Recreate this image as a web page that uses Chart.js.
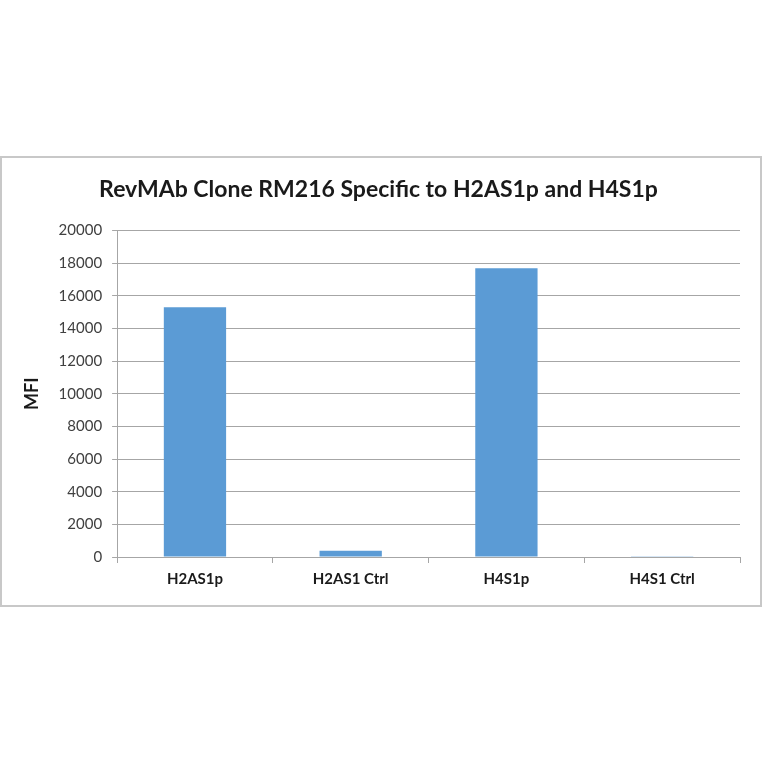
<!DOCTYPE html>
<html>
<head>
<meta charset="utf-8">
<script src="https://cdn.jsdelivr.net/npm/chart.js@4"></script>
<style>
html,body{margin:0;padding:0;background:#fff;}
#box{position:absolute;left:0px;top:156px;width:758px;height:447px;border:2px solid #c8c8c8;background:#fff;}
canvas{display:block;}
</style>
</head>
<body>
<div id="box"><canvas id="c" width="758" height="447"></canvas></div>
<script>
const categories = ["H2AS1p", "H2AS1 Ctrl", "H4S1p", "H4S1 Ctrl"];
const mfiValues = [15300, 380, 17700, 10];
const yTicks = [0, 2000, 4000, 6000, 8000, 10000, 12000, 14000, 16000, 18000, 20000];
const titleText = "RevMAb Clone RM216 Specific to H2AS1p and H4S1p";
const yTitle = "MFI";

new Chart(document.getElementById('c'), {
  type: 'bar',
  data: {
    labels: categories,
    datasets: [{
      data: mfiValues,
      backgroundColor: '#5b9bd5',
      categoryPercentage: 1.0,
      barPercentage: 0.4
    }]
  },
  options: {
    responsive: false,
    animation: false,
    layout: { padding: { left: 15, right: 20, top: 14, bottom: 10 } },
    plugins: {
      legend: { display: false },
      tooltip: { enabled: false },
      title: {
        display: true,
        text: titleText,
        color: '#1a1a1a',
        font: { family: 'Lato', size: 23, weight: 'bold' },
        padding: { top: 4, bottom: 27 }
      }
    },
    scales: {
      y: {
        min: 0, max: 20000,
        afterBuildTicks: (ax) => { ax.ticks = yTicks.map(v => ({ value: v })); },
        ticks: { color: '#404040', font: { family: 'Lato', size: 15 }, padding: 10,
                 callback: (v) => String(v) },
        grid: { color: '#a6a6a6', lineWidth: 1, tickLength: 5, drawTicks: true },
        border: { color: '#a6a6a6' },
        title: { display: true, text: yTitle, color: '#1a1a1a', font: { family: 'Lato', size: 18, weight: 'bold' }, padding: { bottom: 6 } }
      },
      x: {
        ticks: { color: '#1a1a1a', font: { family: 'Lato', size: 15, weight: 'bold' }, padding: 7 },
        grid: { drawOnChartArea: false, drawTicks: true, tickLength: 6, color: '#a6a6a6', offset: true },
        border: { color: '#a6a6a6' }
      }
    }
  }
});
</script>
</body>
</html>
